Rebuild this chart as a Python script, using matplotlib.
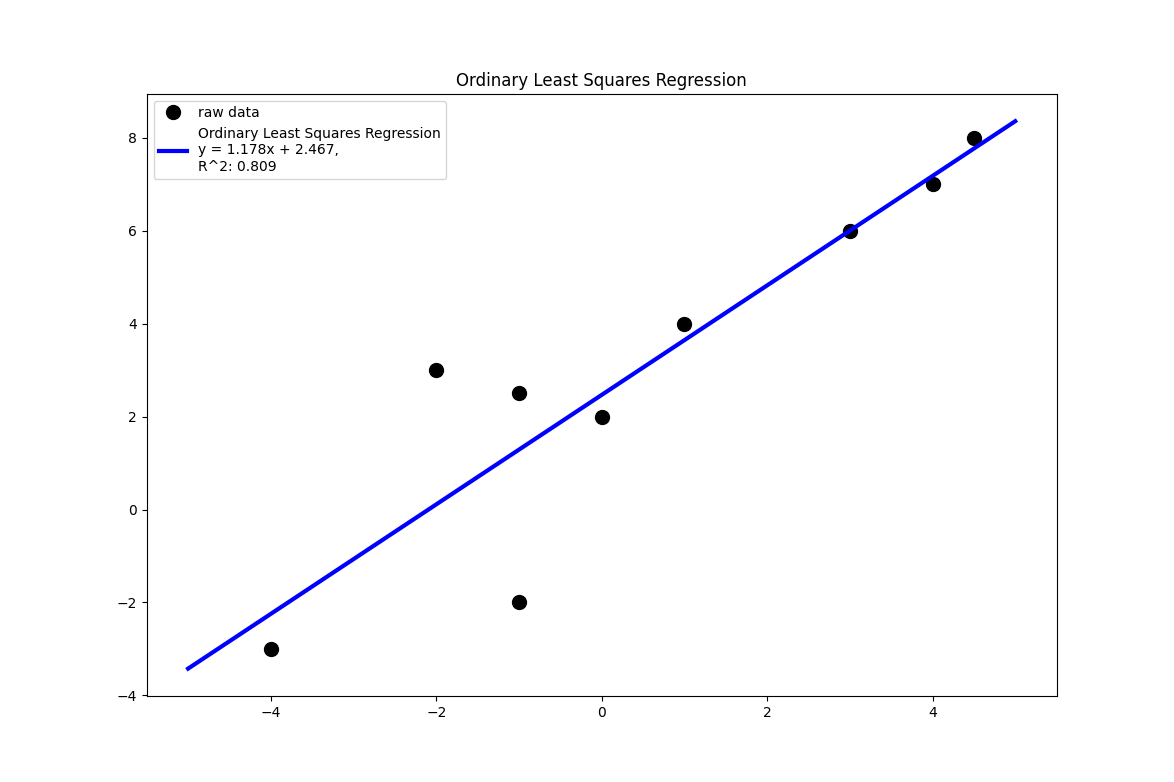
import numpy as np
import matplotlib.pyplot as plt

x = np.array([-4, -2, -1, -1, 0, 1, 3, 4, 4.5])
y = np.array([-3, 3, 2.5, -2, 2, 4, 6, 7, 8])
xlinea = np.array([-5, 5])

# ajuste por minimos cuadrados
m, b = np.polyfit(x, y, 1)
yfit = m * x + b
r2 = 1 - np.sum((y - yfit) ** 2) / np.sum((y - y.mean()) ** 2)

fig = plt.figure(figsize=(11.74, 7.82), dpi=100)
plt.plot(x, y, 'o', color='black', markersize=10, label='raw data')
plt.plot(xlinea, m * xlinea + b, color='blue', linewidth=3,
         label=f'Ordinary Least Squares Regression\ny = {m:.3f}x + {b:.3f},\nR^2: {r2:.3f}')
plt.title('Ordinary Least Squares Regression')
plt.legend(loc='upper left')
plt.savefig('out.png', dpi=100)
